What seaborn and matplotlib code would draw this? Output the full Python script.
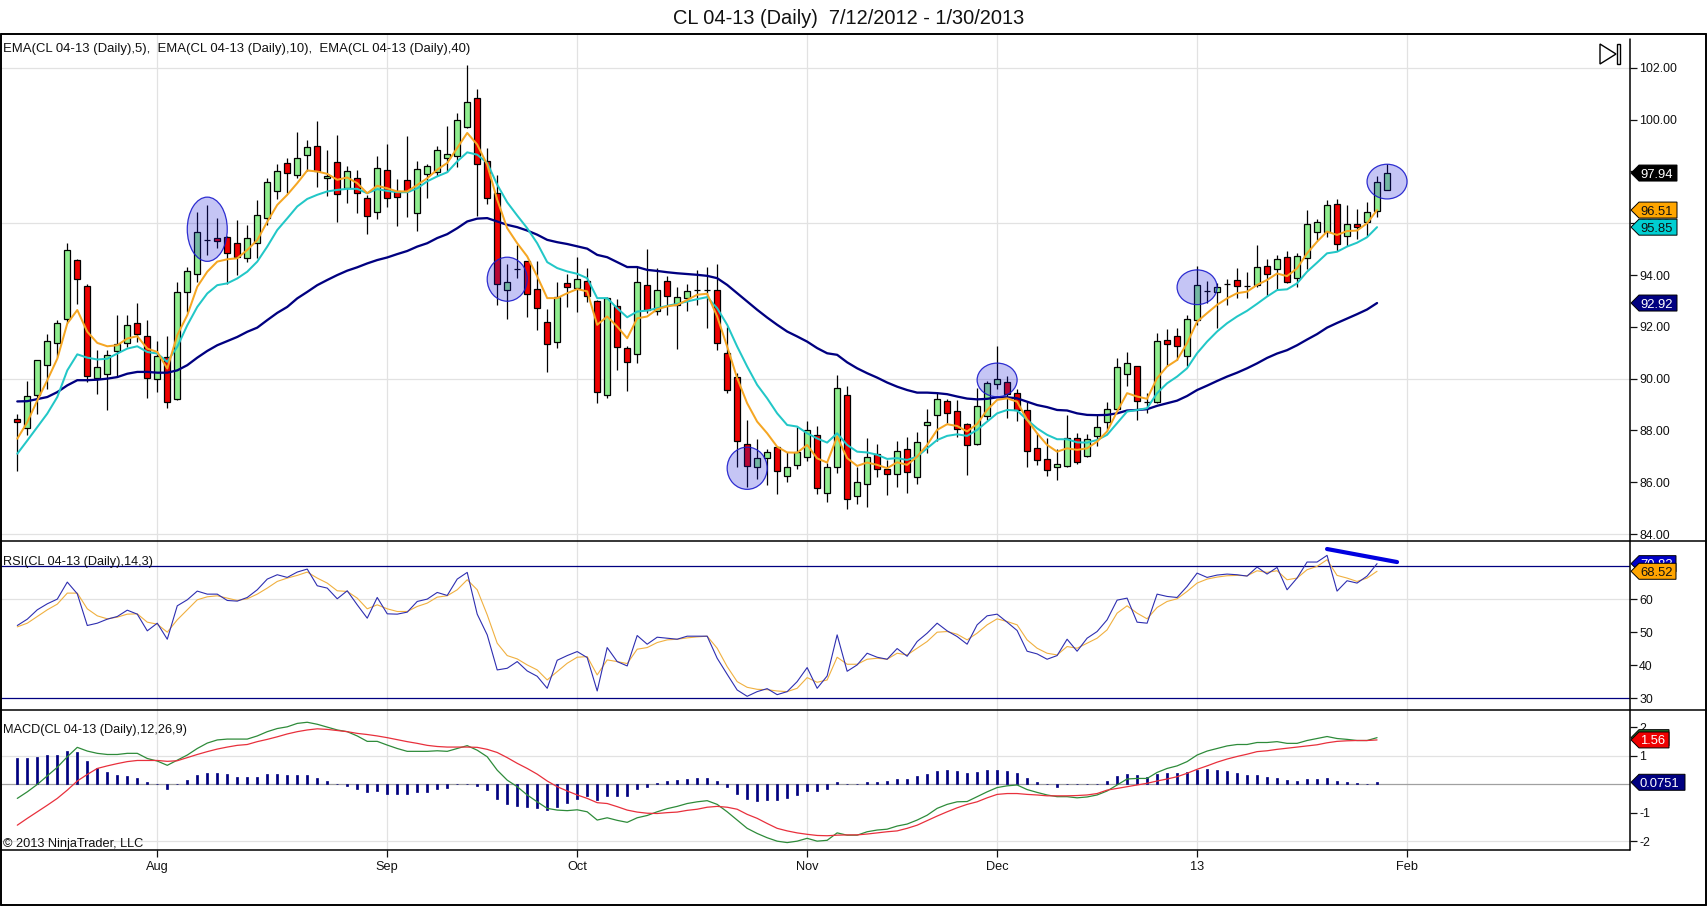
# Crude oil daily chart with EMA, RSI and MACD panels
import matplotlib
matplotlib.use("Agg")
import numpy as np
import pandas as pd
import matplotlib.pyplot as plt
import seaborn as sns
from matplotlib.lines import Line2D
from matplotlib.patches import Ellipse, Polygon, Rectangle

# Candles, one value per trading day
opens = [88.45, 88.10, 89.38, 90.52, 91.39, 92.32, 94.57, 93.59, 90.04, 90.19, 91.07, 91.38, 92.13, 91.66, 90.00, 90.84, 89.23, 93.33, 94.03, 95.35,
         95.42, 95.46, 95.23, 94.67, 95.23, 96.19, 97.23, 98.32, 97.85, 98.63, 98.98, 97.73, 98.36, 97.35, 97.74, 96.97, 96.43, 98.05, 97.26, 97.66,
         96.39, 97.90, 97.98, 98.52, 98.59, 99.71, 100.84, 98.39, 97.17, 93.42, 94.24, 94.54, 93.46, 92.18, 91.41, 93.69, 93.49, 93.78, 92.99, 89.36,
         92.82, 91.18, 90.94, 93.61, 92.62, 93.77, 92.85, 93.11, 93.43, 93.43, 93.42, 90.98, 90.05, 87.49, 86.57, 86.92, 87.35, 86.23, 86.65, 86.99,
         87.81, 85.57, 86.57, 89.36, 85.46, 85.92, 87.09, 86.50, 86.31, 87.27, 86.21, 88.20, 88.59, 89.13, 88.74, 88.24, 87.49, 88.57, 89.78, 89.86,
         89.44, 88.77, 87.31, 86.89, 86.60, 86.62, 87.69, 87.03, 87.80, 88.34, 88.84, 90.17, 90.48, 89.10, 89.09, 91.48, 91.64, 90.86, 92.25, 93.37,
         93.34, 93.67, 93.80, 93.58, 93.63, 94.34, 94.22, 94.68, 93.87, 94.65, 95.65, 95.68, 96.76, 95.50, 95.96, 96.04, 96.46, 97.30]
highs = [88.62, 89.90, 90.73, 91.72, 92.28, 95.23, 94.61, 93.64, 91.10, 91.10, 92.45, 92.45, 92.94, 92.28, 91.45, 91.64, 93.72, 94.30, 96.45, 96.71,
         96.22, 95.50, 96.13, 95.94, 96.90, 97.74, 98.28, 98.52, 99.52, 99.23, 99.96, 98.84, 99.42, 98.22, 98.06, 97.10, 98.61, 99.07, 97.72, 99.38,
         98.41, 98.28, 99.00, 99.77, 100.26, 102.13, 101.19, 98.91, 97.85, 94.42, 95.18, 94.55, 94.54, 92.68, 93.73, 94.05, 94.69, 94.27, 93.05, 93.17,
         93.07, 91.25, 94.33, 95.00, 94.27, 93.98, 93.53, 93.65, 94.20, 94.31, 94.42, 92.00, 90.21, 88.40, 87.67, 87.28, 87.37, 87.18, 88.15, 88.37,
         88.17, 86.73, 90.14, 89.72, 86.60, 87.70, 87.47, 86.86, 87.60, 87.74, 87.93, 88.82, 89.44, 89.22, 89.18, 88.30, 89.63, 89.89, 91.26, 90.11,
         89.60, 89.11, 87.89, 87.70, 87.27, 88.60, 87.89, 87.87, 88.60, 89.11, 90.79, 91.03, 90.50, 89.45, 91.75, 91.92, 91.95, 92.46, 94.35, 93.77,
         93.68, 93.85, 94.26, 94.11, 95.16, 94.61, 94.77, 94.93, 94.84, 96.52, 96.15, 96.90, 96.93, 96.71, 96.54, 96.83, 97.81, 98.28]
lows = [86.45, 87.81, 88.65, 89.61, 90.84, 92.13, 92.88, 89.87, 89.42, 88.80, 90.05, 91.23, 91.42, 89.25, 89.48, 88.86, 89.19, 92.58, 93.74, 94.77,
        95.03, 93.65, 94.00, 94.52, 94.65, 95.94, 96.93, 97.16, 97.74, 98.00, 97.42, 97.07, 96.06, 96.80, 96.41, 95.59, 96.18, 96.62, 95.91, 96.26,
        95.72, 96.97, 97.81, 97.97, 98.17, 99.68, 96.30, 96.76, 92.85, 92.30, 93.89, 92.40, 91.88, 90.27, 91.20, 92.76, 92.59, 92.95, 89.05, 89.24,
        90.34, 89.54, 90.62, 92.53, 92.44, 92.46, 91.14, 92.63, 92.85, 91.97, 91.09, 89.46, 86.60, 85.83, 86.12, 85.89, 85.54, 86.02, 86.51, 86.83,
        85.54, 85.25, 86.34, 84.95, 85.16, 85.03, 86.19, 85.49, 85.83, 85.60, 85.94, 87.12, 87.61, 88.28, 87.74, 86.26, 87.44, 88.41, 89.59, 88.47,
        88.38, 86.60, 86.67, 86.24, 86.09, 86.60, 86.71, 86.97, 87.38, 88.02, 88.80, 89.72, 88.41, 88.66, 89.05, 90.47, 90.72, 90.47, 92.07, 92.91,
        91.97, 92.85, 93.13, 93.13, 93.55, 93.20, 93.42, 93.70, 93.55, 94.23, 95.35, 95.46, 94.94, 95.12, 95.39, 95.51, 96.23, 97.29]
closes = [88.32, 89.33, 90.71, 91.46, 92.13, 94.95, 93.83, 90.12, 90.45, 90.93, 91.35, 92.09, 91.74, 90.03, 90.88, 89.11, 93.35, 94.17, 95.65, 95.35,
          95.33, 94.84, 94.71, 95.42, 96.31, 97.59, 98.01, 97.94, 98.52, 98.94, 98.03, 97.81, 97.12, 98.01, 97.16, 96.27, 98.13, 96.97, 97.03, 97.23,
          98.08, 98.20, 98.82, 98.68, 99.99, 100.69, 98.29, 96.97, 93.65, 93.75, 94.24, 93.26, 92.72, 91.33, 93.17, 93.52, 93.84, 93.21, 89.47, 93.11,
          91.21, 90.66, 93.73, 92.66, 93.42, 93.19, 93.17, 93.40, 93.43, 93.43, 91.37, 89.55, 87.58, 86.64, 86.95, 87.18, 86.45, 86.60, 87.15, 88.02,
          85.76, 86.57, 89.63, 85.34, 85.99, 86.99, 86.50, 86.31, 87.22, 86.39, 87.57, 88.32, 89.20, 88.66, 88.07, 87.43, 88.96, 89.82, 90.00, 89.42,
          88.79, 87.20, 86.85, 86.46, 86.69, 87.70, 86.80, 87.66, 88.12, 88.84, 90.44, 90.59, 89.13, 89.10, 91.44, 91.33, 91.25, 92.29, 93.61, 93.37,
          93.55, 93.67, 93.59, 93.58, 94.30, 94.03, 94.61, 93.74, 94.72, 95.96, 96.04, 96.70, 95.21, 95.96, 95.87, 96.43, 97.59, 97.94]

# EMA lines stop one bar before the last candle
ema5 = [87.68, 88.32, 89.16, 89.94, 90.77, 92.13, 92.65, 91.81, 91.38, 91.25, 91.29, 91.55, 91.64, 91.16, 91.03, 90.39, 91.68, 92.45, 93.55, 94.13,
        94.52, 94.61, 94.65, 94.97, 95.35, 96.06, 96.71, 97.10, 97.55, 98.04, 98.00, 97.91, 97.68, 97.77, 97.55, 97.16, 97.45, 97.35, 97.23, 97.23,
        97.48, 97.74, 98.07, 98.33, 98.91, 99.49, 99.04, 98.26, 96.91, 95.81, 95.23, 94.72, 93.95, 93.11, 93.11, 93.30, 93.46, 93.37, 92.08, 92.40,
        92.01, 91.56, 92.33, 92.40, 92.68, 92.79, 92.85, 93.04, 93.24, 93.28, 92.40, 91.24, 90.02, 89.05, 88.34, 87.89, 87.37, 87.15, 87.14, 87.44,
        86.92, 86.76, 87.76, 86.93, 86.63, 86.76, 86.67, 86.54, 86.77, 86.67, 86.99, 87.44, 88.02, 88.24, 88.17, 87.96, 88.25, 88.79, 89.18, 89.24,
        89.11, 88.41, 87.89, 87.44, 87.18, 87.31, 87.25, 87.31, 87.57, 87.96, 88.73, 89.44, 89.31, 89.22, 90.02, 90.47, 90.72, 91.37, 92.20, 92.53,
        92.85, 93.10, 93.30, 93.36, 93.62, 93.81, 94.06, 93.96, 94.26, 94.84, 95.29, 95.68, 95.55, 95.70, 95.72, 96.00, 96.51]
ema10 = [87.10, 87.61, 88.13, 88.65, 89.29, 90.32, 90.94, 90.81, 90.74, 90.77, 90.97, 91.16, 91.25, 91.03, 90.97, 90.65, 91.23, 92.06, 92.77, 93.29,
         93.61, 93.68, 93.87, 94.13, 94.52, 95.10, 95.74, 96.19, 96.65, 96.94, 97.10, 97.23, 97.29, 97.33, 97.33, 97.16, 97.32, 97.25, 97.20, 97.20,
         97.35, 97.62, 97.81, 97.97, 98.39, 98.74, 98.65, 98.33, 97.49, 96.81, 96.30, 95.81, 95.23, 94.50, 94.27, 94.14, 94.05, 93.88, 93.11, 93.11,
         92.72, 92.37, 92.59, 92.63, 92.72, 92.81, 92.89, 92.98, 93.07, 93.15, 92.72, 92.08, 91.24, 90.47, 89.76, 89.24, 88.66, 88.21, 88.15, 87.89,
         87.69, 87.53, 87.89, 87.44, 87.18, 87.15, 87.06, 86.90, 86.93, 86.86, 86.99, 87.31, 87.63, 87.79, 87.85, 87.79, 88.02, 88.34, 88.66, 88.79,
         88.77, 88.41, 88.08, 87.83, 87.66, 87.66, 87.54, 87.53, 87.63, 87.83, 88.28, 88.73, 88.79, 88.86, 89.44, 89.82, 90.08, 90.40, 90.98, 91.43,
         91.82, 92.14, 92.40, 92.62, 92.89, 93.17, 93.42, 93.45, 93.68, 94.13, 94.48, 94.84, 94.90, 95.10, 95.25, 95.46, 95.85]
ema40 = [89.12, 89.13, 89.21, 89.29, 89.48, 89.74, 89.94, 89.94, 89.96, 90.00, 90.06, 90.19, 90.26, 90.26, 90.23, 90.23, 90.32, 90.52, 90.81, 91.07,
         91.29, 91.45, 91.61, 91.81, 91.97, 92.26, 92.54, 92.77, 93.10, 93.35, 93.61, 93.81, 94.00, 94.17, 94.30, 94.45, 94.58, 94.68, 94.81, 94.93,
         95.10, 95.23, 95.43, 95.58, 95.81, 96.07, 96.18, 96.20, 96.07, 95.94, 95.85, 95.72, 95.56, 95.36, 95.27, 95.20, 95.11, 95.02, 94.78, 94.69,
         94.50, 94.31, 94.31, 94.20, 94.16, 94.11, 94.07, 94.04, 94.01, 93.97, 93.88, 93.62, 93.30, 92.98, 92.66, 92.36, 92.08, 91.82, 91.63, 91.43,
         91.18, 90.98, 90.92, 90.63, 90.40, 90.21, 90.04, 89.85, 89.69, 89.56, 89.46, 89.46, 89.44, 89.40, 89.31, 89.23, 89.20, 89.22, 89.28, 89.28,
         89.24, 89.11, 88.98, 88.90, 88.79, 88.77, 88.66, 88.60, 88.59, 88.60, 88.66, 88.77, 88.79, 88.82, 88.95, 89.05, 89.15, 89.33, 89.56, 89.73,
         89.91, 90.08, 90.23, 90.40, 90.59, 90.80, 90.97, 91.10, 91.29, 91.51, 91.72, 91.97, 92.15, 92.32, 92.49, 92.67, 92.92]

rsi = [52.08, 54.00, 56.84, 58.66, 60.08, 65.24, 61.70, 52.08, 52.78, 54.00, 54.81, 56.73, 55.52, 50.46, 52.78, 47.92, 58.05, 59.87, 62.51, 61.59,
       61.59, 59.67, 59.47, 60.58, 62.91, 66.15, 67.47, 66.66, 68.28, 69.19, 64.13, 63.42, 60.18, 62.61, 58.35, 54.30, 60.58, 55.62, 55.52, 56.13,
       59.37, 60.08, 62.10, 61.19, 66.15, 68.18, 55.52, 49.24, 38.61, 39.11, 41.14, 38.30, 36.68, 33.04, 41.54, 42.96, 44.18, 42.35, 32.23,
       45.39, 41.14, 39.82, 49.04, 46.41, 48.53, 48.23, 47.92, 48.84, 48.84, 48.84, 42.15, 37.29, 32.53, 30.61, 32.03, 32.94, 31.11, 32.03, 35.06,
       39.32, 33.04, 36.78, 49.24, 38.20, 40.13, 43.67, 42.46, 41.85, 45.09, 42.76, 47.22, 49.75, 52.78, 50.46, 48.73, 46.41, 52.28, 55.01, 55.52,
       53.09, 50.56, 44.28, 43.47, 41.85, 42.96, 47.92, 44.28, 48.23, 50.25, 53.80, 59.77, 60.38, 53.09, 52.78, 61.59, 60.89, 60.58, 63.92, 67.97,
       66.66, 67.37, 67.67, 67.47, 67.06, 69.80, 67.67, 69.70, 62.91, 66.46, 71.32, 71.32, 73.34, 62.51, 65.65, 64.94, 67.06, 70.83]
rsi_avg = [51.67, 52.78, 54.81, 56.84, 58.56, 61.90, 61.90, 57.14, 55.01, 54.10, 54.61, 55.52, 55.62, 53.09, 52.48, 50.05, 53.80, 56.84, 59.87, 60.78,
           61.09, 60.38, 59.67, 60.18, 61.59, 63.42, 65.44, 66.46, 67.27, 68.28, 66.46, 64.94, 62.61, 62.41, 60.38, 57.14, 58.35, 57.14, 56.33, 56.33,
           57.85, 58.86, 60.68, 61.09, 62.91, 65.95, 62.91, 55.32, 46.71, 42.96, 41.95, 40.13, 38.61, 35.57, 38.10, 40.63, 42.46, 42.66, 37.09,
           41.65, 41.14, 40.53, 44.89, 45.39, 46.91, 47.72, 47.92, 48.33, 48.63, 48.84, 45.19, 39.62, 35.06, 33.34, 32.73, 32.63, 32.23, 32.03, 33.04,
           36.28, 34.86, 35.57, 42.46, 40.33, 40.33, 41.85, 42.15, 41.85, 43.67, 43.16, 45.19, 47.22, 50.05, 50.25, 49.44, 47.72, 49.75, 52.28, 54.10,
           53.29, 52.28, 47.72, 45.19, 43.67, 43.16, 45.70, 45.19, 46.71, 48.23, 50.76, 55.82, 58.05, 55.82, 54.10, 57.54, 59.37, 60.18, 62.41, 64.94,
           66.15, 66.76, 67.16, 67.27, 67.16, 68.68, 68.18, 68.68, 65.95, 66.46, 68.99, 70.00, 72.03, 67.27, 66.46, 65.44, 66.46, 68.52]

macd = [-0.49, -0.26, 0.00, 0.30, 0.60, 0.97, 1.30, 1.17, 1.09, 1.05, 1.05, 1.09, 1.09, 0.91, 0.82, 0.67, 0.85, 1.03, 1.26, 1.45,
        1.56, 1.59, 1.59, 1.59, 1.70, 1.85, 1.96, 2.02, 2.14, 2.18, 2.11, 2.01, 1.91, 1.85, 1.70, 1.51, 1.51, 1.38, 1.26, 1.16,
        1.16, 1.16, 1.18, 1.16, 1.26, 1.36, 1.20, 0.97, 0.50, 0.15, -0.08, -0.37, -0.61, -0.84, -0.90, -0.92, -0.89, -0.96, -1.25,
        -1.17, -1.26, -1.33, -1.17, -1.09, -0.96, -0.85, -0.77, -0.67, -0.61, -0.57, -0.70, -0.96, -1.25, -1.54, -1.72, -1.87, -1.99, -2.04, -1.99,
        -1.89, -1.99, -1.96, -1.70, -1.78, -1.78, -1.66, -1.60, -1.57, -1.46, -1.39, -1.25, -1.08, -0.84, -0.70, -0.61, -0.60, -0.43, -0.26, -0.11,
        -0.05, -0.02, -0.18, -0.28, -0.37, -0.43, -0.43, -0.47, -0.44, -0.37, -0.23, -0.02, 0.19, 0.21, 0.21, 0.42, 0.56, 0.65, 0.80, 1.03,
        1.17, 1.26, 1.35, 1.40, 1.40, 1.47, 1.47, 1.50, 1.44, 1.44, 1.54, 1.61, 1.68, 1.61, 1.58, 1.54, 1.54, 1.64]
macd_avg = [-1.43, -1.19, -0.96, -0.73, -0.49, -0.20, 0.12, 0.35, 0.56, 0.65, 0.73, 0.80, 0.84, 0.84, 0.84, 0.81, 0.83, 0.94, 1.05, 1.15,
            1.24, 1.31, 1.37, 1.40, 1.50, 1.58, 1.67, 1.77, 1.85, 1.91, 1.95, 1.93, 1.89, 1.85, 1.79, 1.75, 1.70, 1.64, 1.57, 1.50,
            1.44, 1.37, 1.33, 1.31, 1.31, 1.31, 1.30, 1.23, 1.12, 0.94, 0.74, 0.56, 0.36, 0.12, -0.08, -0.23, -0.37, -0.49, -0.64,
            -0.67, -0.78, -0.90, -0.97, -1.01, -1.02, -0.99, -0.97, -0.91, -0.87, -0.80, -0.77, -0.80, -0.87, -1.05, -1.19, -1.37, -1.54, -1.63, -1.70,
            -1.75, -1.79, -1.80, -1.78, -1.77, -1.77, -1.74, -1.70, -1.66, -1.63, -1.54, -1.43, -1.27, -1.11, -0.96, -0.82, -0.70, -0.61, -0.47, -0.35,
            -0.32, -0.32, -0.35, -0.37, -0.40, -0.40, -0.40, -0.39, -0.37, -0.32, -0.20, -0.14, -0.08, -0.02, 0.04, 0.12, 0.19, 0.27, 0.39, 0.53,
            0.65, 0.78, 0.89, 0.98, 1.06, 1.15, 1.18, 1.23, 1.27, 1.31, 1.35, 1.39, 1.46, 1.51, 1.53, 1.54, 1.54, 1.56]
macd_diff = [0.91, 0.91, 0.96, 1.03, 1.03, 1.17, 1.12, 0.82, 0.56, 0.43, 0.33, 0.29, 0.22, 0.08, 0.01, -0.16, 0.01, 0.14, 0.33, 0.40,
             0.40, 0.36, 0.26, 0.26, 0.26, 0.35, 0.36, 0.33, 0.33, 0.33, 0.22, 0.11, 0.01, -0.05, -0.16, -0.26, -0.22, -0.32, -0.32, -0.34,
             -0.26, -0.26, -0.16, -0.14, 0.01, 0.02, -0.05, -0.20, -0.50, -0.68, -0.75, -0.80, -0.83, -0.89, -0.80, -0.64, -0.50, -0.41, -0.56,
             -0.40, -0.40, -0.40, -0.16, -0.08, 0.04, 0.12, 0.15, 0.19, 0.22, 0.22, 0.12, -0.08, -0.33, -0.51, -0.57, -0.55, -0.55, -0.47, -0.37,
             -0.23, -0.22, -0.15, 0.08, 0.01, 0.01, 0.07, 0.07, 0.12, 0.19, 0.19, 0.29, 0.36, 0.47, 0.50, 0.47, 0.40, 0.43, 0.50, 0.50,
             0.47, 0.40, 0.22, 0.07, 0.01, -0.09, 0.01, 0.01, 0.01, 0.02, 0.12, 0.29, 0.36, 0.33, 0.26, 0.36, 0.40, 0.40, 0.43, 0.50,
             0.54, 0.50, 0.47, 0.40, 0.33, 0.33, 0.26, 0.22, 0.15, 0.12, 0.19, 0.19, 0.22, 0.12, 0.08, 0.04, 0.01, 0.0751]

# Month boundaries, as bar numbers, and the circled bars (bar, price, height)
month_bars = [14, 37, 56, 79, 98, 118, 139]
month_labels = ["Aug", "Sep", "Oct", "Nov", "Dec", "13", "Feb"]
circles = [(19, 95.77, 2.48), (49, 93.84, 1.70), (73, 86.54, 1.63), (98, 89.95, 1.30), (118, 93.53, 1.34), (137, 97.61, 1.34)]
div_bars = [131, 138]
div_rsi = [75.27, 71.32]

bars = np.arange(len(opens))
line_bars = bars[:-1]
for series in [highs, lows, closes]:
    assert len(series) == len(opens)
for series in [ema5, ema10, ema40, rsi, rsi_avg, macd, macd_avg, macd_diff]:
    assert len(series) == len(line_bars), len(series)

W, H = 1707, 906
sns.set_theme(style="white")
plt.rcParams['font.family'] = ['Liberation Sans', 'DejaVu Sans']
plt.rcParams['font.size'] = 8.7

fig = plt.figure(figsize=(W / 100, H / 100), dpi=100, facecolor="white")
tag_count = 0


def panel(top, bottom):
    # pixel rows from the top of the picture
    ax = fig.add_axes([1 / W, 1 - bottom / H, 1629 / W, (bottom - top) / H])
    ax.set_facecolor("white")
    for s in ["top", "bottom", "left", "right"]:
        ax.spines[s].set_visible(False)
    ax.set_xlim(-1.63, 161.3)
    ax.yaxis.tick_right()
    ax.tick_params(axis="y", length=5, width=0.9, pad=1.5, colors="#111111", labelsize=8.9, right=True)
    ax.set_xticks(month_bars)
    ax.set_xticklabels([])
    ax.tick_params(axis="x", length=0)
    for m in month_bars:
        ax.axvline(m, color="#e2e2e2", lw=0.9, zorder=0)
    return ax


def frame_line(x0, y0, x1, y1, lw=1.4):
    fig.add_artist(Line2D([x0 / W, x1 / W], [1 - y0 / H, 1 - y1 / H], color="black", lw=lw, zorder=5))


def tag(ax, value, label, bg, fg, right):
    # flag on the right axis pointing at the value, later flags cover earlier ones
    global tag_count
    tag_count += 1
    y = ax.transData.transform((0, value))[1]
    x0, x1 = 1631, right
    pts = [(x0, y), (x0 + 8, y + 8), (x1, y + 8), (x1, y - 8), (x0 + 8, y - 8)]
    pts = [(a / W, b / H) for a, b in pts]
    fig.add_artist(Polygon(pts, closed=True, facecolor=bg, edgecolor="black", lw=0.7, transform=fig.transFigure,
                           zorder=6 + 2 * tag_count))
    fig.text((x0 + 9) / W, y / H, label, color=fg, fontsize=9.4, ha="left", va="center_baseline",
             zorder=7 + 2 * tag_count)


ax_price = panel(34, 541)
ax_rsi = panel(541, 710)
ax_macd = panel(710, 850)

# price panel
ax_price.set_ylim(83.73, 103.31)
ax_price.set_yticks(np.arange(84, 103, 2))
ax_price.set_yticklabels(["%.2f" % v for v in np.arange(84, 103, 2)])
for v in [84, 90, 96, 102]:
    ax_price.axhline(v, color="#e2e2e2", lw=0.9, zorder=0)

candles = pd.DataFrame({"bar": bars, "open": opens, "high": highs, "low": lows, "close": closes})
candles["colour"] = np.where(candles["close"] >= candles["open"], "#90EE90", "#EE0000")
ax_price.vlines(candles["bar"], candles["low"], candles["high"], color="black", lw=0.9, zorder=2)
ax_price.bar(candles["bar"], candles["close"] - candles["open"], bottom=candles["open"], width=0.62,
             color=candles["colour"], edgecolor="black", linewidth=0.9, zorder=3)

sns.lineplot(x=line_bars, y=ema40, ax=ax_price, color="#000080", lw=1.65, zorder=4, legend=False, errorbar=None)
sns.lineplot(x=line_bars, y=ema10, ax=ax_price, color="#22C7C7", lw=1.45, zorder=4, legend=False, errorbar=None)
sns.lineplot(x=line_bars, y=ema5, ax=ax_price, color="#F5A623", lw=1.45, zorder=4, legend=False, errorbar=None)

for bar, price, height in circles:
    ax_price.add_patch(Ellipse((bar, price), 4.0, height, facecolor=(0.1, 0.1, 0.85, 0.25),
                               edgecolor=(0.1, 0.1, 0.8, 0.9), lw=0.9, zorder=5))

ax_price.text(2 / 1629, 1 - 13 / 507, "EMA(CL 04-13 (Daily),5),  EMA(CL 04-13 (Daily),10),  EMA(CL 04-13 (Daily),40)",
              transform=ax_price.transAxes, fontsize=9.45, color="#111111", ha="left", va="center_baseline")

# RSI panel
ax_rsi.set_ylim(26.46, 77.7)
ax_rsi.set_yticks([30, 40, 50, 60])
ax_rsi.set_yticklabels(["30", "40", "50", "60"])
ax_rsi.axhline(60, color="#e2e2e2", lw=0.9, zorder=0)
ax_rsi.axhline(70, color="#000080", lw=0.9, zorder=1)
ax_rsi.axhline(30, color="#000080", lw=0.9, zorder=1)
sns.lineplot(x=line_bars, y=rsi_avg, ax=ax_rsi, color="#F0B040", lw=0.8, zorder=3, legend=False, errorbar=None)
sns.lineplot(x=line_bars, y=rsi, ax=ax_rsi, color="#2E2EB0", lw=0.8, zorder=3, legend=False, errorbar=None)
sns.lineplot(x=div_bars, y=div_rsi, ax=ax_rsi, color="#0000E0", lw=3.0, zorder=4, legend=False, errorbar=None)
ax_rsi.text(2 / 1629, 1 - 20 / 169, "RSI(CL 04-13 (Daily),14,3)", transform=ax_rsi.transAxes, fontsize=9.2,
            color="#111111", ha="left", va="center_baseline")

# MACD panel
ax_macd.set_ylim(-2.30, 2.61)
ax_macd.set_yticks([-2, -1, 1, 2])
ax_macd.set_yticklabels(["-2", "-1", "1", "2"])
ax_macd.axhline(1, color="#e2e2e2", lw=0.9, zorder=0)
ax_macd.axhline(-2, color="#e2e2e2", lw=0.9, zorder=0)
ax_macd.axhline(0, color="#a0a0a0", lw=0.9, zorder=1)
# the seaborn theme forces white bar edges, so give these their own edge colour
ax_macd.bar(line_bars, macd_diff, width=0.19, color="#000080", edgecolor="#000080", linewidth=0.5, zorder=2)
sns.lineplot(x=line_bars, y=macd, ax=ax_macd, color="#2E8B3A", lw=0.9, zorder=3, legend=False, errorbar=None)
sns.lineplot(x=line_bars, y=macd_avg, ax=ax_macd, color="#E8303C", lw=0.9, zorder=3, legend=False, errorbar=None)
ax_macd.text(2 / 1629, 1 - 19 / 140, "MACD(CL 04-13 (Daily),12,26,9)", transform=ax_macd.transAxes, fontsize=9.2,
             color="#111111", ha="left", va="center_baseline")
ax_macd.text(2 / 1629, 1 - 132 / 140, "\u00a9 2013 NinjaTrader, LLC", transform=ax_macd.transAxes, fontsize=9.2,
             color="#111111", ha="left", va="center_baseline")

ax_macd.set_xticklabels(month_labels)
ax_macd.tick_params(axis="x", length=5, width=0.9, pad=3, colors="#111111", labelsize=9.2, bottom=True)

for ax in [ax_price, ax_rsi, ax_macd]:
    ax.set_xlabel("")
    ax.set_ylabel("")

# outer frame and panel rules
frame_line(1, 34, 1706, 34)
frame_line(1, 905, 1706, 905)
frame_line(1, 34, 1, 905)
frame_line(1706, 34, 1706, 905)
frame_line(1, 541, 1706, 541, lw=1.1)
frame_line(1, 710, 1706, 710, lw=1.1)
frame_line(1, 850, 1630, 850, lw=1.1)
frame_line(1630, 39, 1630, 850, lw=1.1)

# value flags on the right axis
tag(ax_price, closes[-1], "97.94", "black", "white", 1677)
tag(ax_price, ema5[-1], "96.51", "#FFA500", "#111111", 1677)
tag(ax_price, ema10[-1], "95.85", "#00CED1", "#111111", 1677)
tag(ax_price, ema40[-1], "92.92", "#000080", "white", 1677)
tag(ax_rsi, rsi[-1], "70.83", "#0000C8", "white", 1676)
tag(ax_rsi, rsi_avg[-1], "68.52", "#FFA500", "#111111", 1676)
tag(ax_macd, macd[-1], "1.64", "#1E6B2A", "white", 1669)
tag(ax_macd, macd_avg[-1], "1.56", "#EE0000", "white", 1669)
tag(ax_macd, macd_diff[-1], "0.0751", "#000080", "white", 1685)

# scroll button in the top right corner
fig.add_artist(Polygon([(1600 / W, 1 - 44 / H), (1616 / W, 1 - 54 / H), (1600 / W, 1 - 64 / H)], closed=True,
                       facecolor="white", edgecolor="black", lw=1.0, transform=fig.transFigure, zorder=6))
fig.add_artist(Rectangle((1617 / W, 1 - 64 / H), 3 / W, 20 / H, facecolor="white", edgecolor="black", lw=1.0,
                         transform=fig.transFigure, zorder=6))

fig.text(849 / W, 1 - 16 / H, "CL 04-13 (Daily)  7/12/2012 - 1/30/2013", fontsize=14.4, color="#111111",
         ha="center", va="center_baseline")

fig.savefig("out.png", dpi=100, facecolor="white")
